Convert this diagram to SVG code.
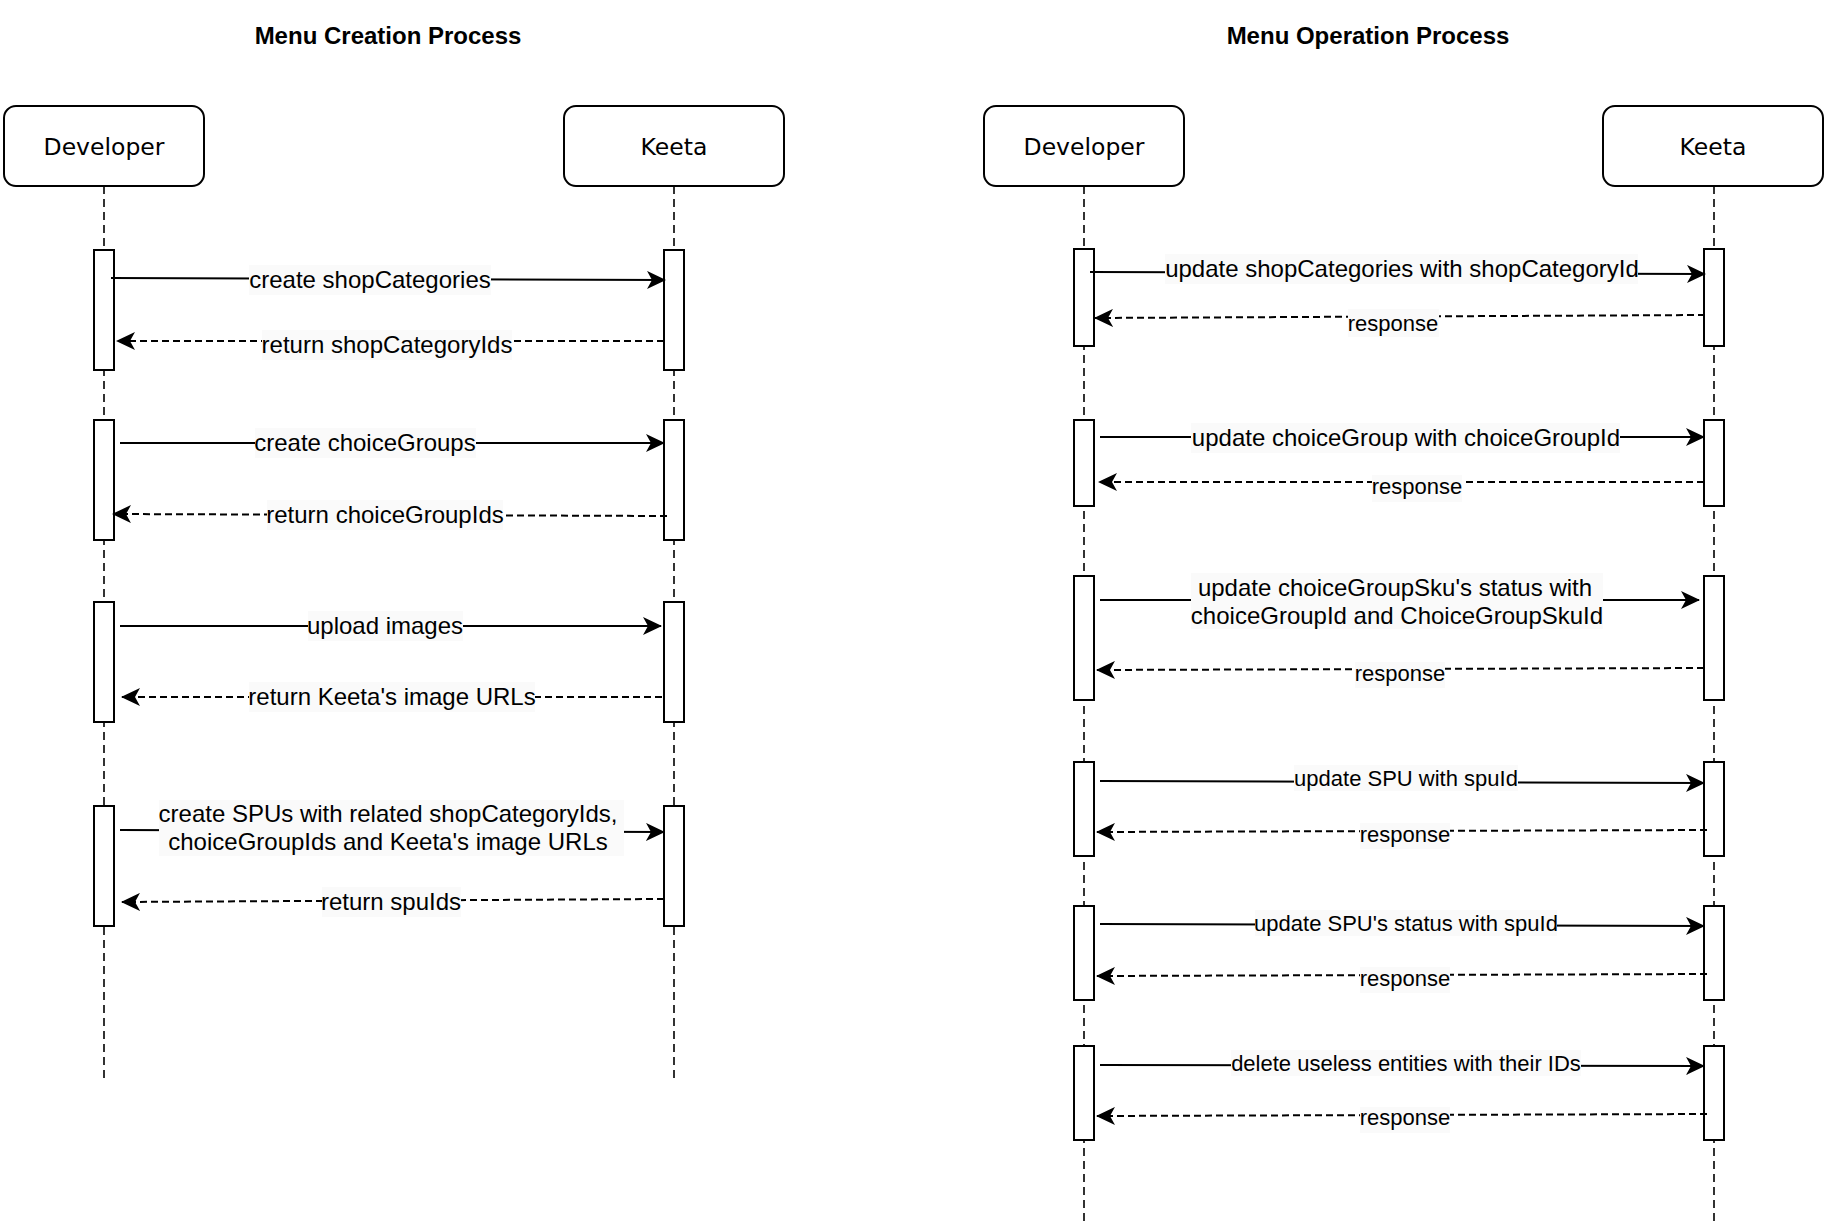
<svg xmlns="http://www.w3.org/2000/svg" width="1830" height="1230" viewBox="0 0 1830 1230">
<defs>
<marker id="ah" markerUnits="userSpaceOnUse" markerWidth="20" markerHeight="18" viewBox="0 0 20 18" refX="18" refY="9" orient="auto">
<path d="M0,0 L19,9 L0,18 L5,9 Z" fill="#000"/>
</marker>
<style>
.title{font-family:"Liberation Sans",Arial,sans-serif;font-weight:bold;font-size:24px;text-anchor:middle;fill:#000}
.actor rect{fill:#fff;stroke:#000;stroke-width:2}
.actor text{font-family:"DejaVu Sans",Verdana,sans-serif;font-size:23.5px;text-anchor:middle;fill:#000}
.life{stroke:#000;stroke-width:1.6;stroke-dasharray:8 5;fill:none}
.bar{fill:#fff;stroke:#000;stroke-width:2}
.msg{stroke:#000;stroke-width:2;fill:none;marker-end:url(#ah)}
.ret{stroke:#000;stroke-width:2;fill:none;stroke-dasharray:7 4;marker-end:url(#ah)}
.lbg{fill:#fafafa}
.lb{font-family:"Liberation Sans",Arial,sans-serif;font-size:24px;text-anchor:middle;fill:#000}
.ls{font-family:"Liberation Sans",Arial,sans-serif;font-size:22px;text-anchor:middle;fill:#000}
</style>
</defs>
<rect width="1830" height="1230" fill="#fff"/>
<text class="title" x="388" y="44">Menu Creation Process</text>
<text class="title" x="1368" y="44">Menu Operation Process</text>

<g id="lifelines">
<line class="life" x1="104" y1="186" x2="104" y2="1079"/>
<line class="life" x1="674" y1="186" x2="674" y2="1079"/>
<line class="life" x1="1084" y1="186" x2="1084" y2="1223"/>
<line class="life" x1="1714" y1="186" x2="1714" y2="1223"/>
</g>

<g id="left-developer" class="actor"><rect x="4" y="106" width="200" height="80" rx="12"/><text x="104" y="155">Developer</text></g>
<g id="left-keeta" class="actor"><rect x="564" y="106" width="220" height="80" rx="12"/><text x="674" y="155">Keeta</text></g>
<g id="right-developer" class="actor"><rect x="984" y="106" width="200" height="80" rx="12"/><text x="1084" y="155">Developer</text></g>
<g id="right-keeta" class="actor"><rect x="1603" y="106" width="220" height="80" rx="12"/><text x="1713" y="155">Keeta</text></g>

<g id="activations">
<rect class="bar" x="94" y="250" width="20" height="120"/>
<rect class="bar" x="664" y="250" width="20" height="120"/>
<rect class="bar" x="94" y="420" width="20" height="120"/>
<rect class="bar" x="664" y="420" width="20" height="120"/>
<rect class="bar" x="94" y="602" width="20" height="120"/>
<rect class="bar" x="664" y="602" width="20" height="120"/>
<rect class="bar" x="94" y="806" width="20" height="120"/>
<rect class="bar" x="664" y="806" width="20" height="120"/>
<rect class="bar" x="1074" y="249" width="20" height="97"/>
<rect class="bar" x="1704" y="249" width="20" height="97"/>
<rect class="bar" x="1074" y="420" width="20" height="86"/>
<rect class="bar" x="1704" y="420" width="20" height="86"/>
<rect class="bar" x="1074" y="576" width="20" height="124"/>
<rect class="bar" x="1704" y="576" width="20" height="124"/>
<rect class="bar" x="1074" y="762" width="20" height="94"/>
<rect class="bar" x="1704" y="762" width="20" height="94"/>
<rect class="bar" x="1074" y="906" width="20" height="94"/>
<rect class="bar" x="1704" y="906" width="20" height="94"/>
<rect class="bar" x="1074" y="1046" width="20" height="94"/>
<rect class="bar" x="1704" y="1046" width="20" height="94"/>
</g>

<g id="connectors">
<path class="msg" d="M111,278 L665,280"/>
<rect class="lbg" x="249" y="265" width="242" height="30"/>
<text class="lb" x="370" y="288">create shopCategories</text>

<path class="ret" d="M664,341 L117,341"/>
<rect class="lbg" x="262" y="330" width="250" height="30"/>
<text class="lb" x="387" y="353">return shopCategoryIds</text>

<path class="msg" d="M120,443 L664,443"/>
<rect class="lbg" x="255" y="428" width="221" height="30"/>
<text class="lb" x="365" y="451">create choiceGroups</text>

<path class="ret" d="M667,516 L113,514"/>
<rect class="lbg" x="267" y="500" width="236" height="30"/>
<text class="lb" x="385" y="523">return choiceGroupIds</text>

<path class="msg" d="M120,626 L661,626"/>
<rect class="lbg" x="308" y="611" width="155" height="30"/>
<text class="lb" x="385" y="634">upload images</text>

<path class="ret" d="M662,697 L122,697"/>
<rect class="lbg" x="249" y="682" width="286" height="30"/>
<text class="lb" x="392" y="705">return Keeta's image URLs</text>

<path class="msg" d="M120,830 L664,832"/>
<rect class="lbg" x="159" y="800" width="465" height="56"/>
<text class="lb" x="388" y="822">create SPUs with related shopCategoryIds,</text>
<text class="lb" x="388" y="850">choiceGroupIds and Keeta's image URLs</text>

<path class="ret" d="M664,899 L122,902"/>
<rect class="lbg" x="322" y="887" width="139" height="30"/>
<text class="lb" x="391" y="910">return spuIds</text>

<path class="msg" d="M1090,272 L1705,274"/>
<rect class="lbg" x="1165" y="254" width="473" height="30"/>
<text class="lb" x="1402" y="277">update shopCategories with shopCategoryId</text>

<path class="ret" d="M1705,315 L1095,318"/>
<rect class="lbg" x="1348" y="309" width="91" height="28"/>
<text class="ls" x="1393" y="331">response</text>

<path class="msg" d="M1100,437 L1704,437"/>
<rect class="lbg" x="1191" y="423" width="429" height="30"/>
<text class="lb" x="1406" y="446">update choiceGroup with choiceGroupId</text>

<path class="ret" d="M1704,482 L1099,482"/>
<rect class="lbg" x="1372" y="475" width="90" height="27"/>
<text class="ls" x="1417" y="494">response</text>

<path class="msg" d="M1100,600 L1699,600"/>
<rect class="lbg" x="1191" y="573" width="412" height="56"/>
<text class="lb" x="1395" y="596">update choiceGroupSku's status with</text>
<text class="lb" x="1397" y="624">choiceGroupId and ChoiceGroupSkuId</text>

<path class="ret" d="M1704,668 L1097,670"/>
<rect class="lbg" x="1355" y="662" width="90" height="26"/>
<text class="ls" x="1400" y="681">response</text>

<path class="msg" d="M1100,781 L1704,783"/>
<rect class="lbg" x="1294" y="765" width="224" height="26"/>
<text class="ls" x="1406" y="786">update SPU with spuId</text>

<path class="ret" d="M1707,830 L1097,832"/>
<rect class="lbg" x="1360" y="823" width="90" height="26"/>
<text class="ls" x="1405" y="842">response</text>

<path class="msg" d="M1100,924 L1704,926"/>
<rect class="lbg" x="1255" y="910" width="302" height="26"/>
<text class="ls" x="1406" y="931">update SPU's status with spuId</text>

<path class="ret" d="M1707,974 L1097,976"/>
<rect class="lbg" x="1360" y="967" width="90" height="26"/>
<text class="ls" x="1405" y="986">response</text>

<path class="msg" d="M1100,1065 L1704,1066"/>
<rect class="lbg" x="1231" y="1050" width="350" height="26"/>
<text class="ls" x="1406" y="1071">delete useless entities with their IDs</text>

<path class="ret" d="M1707,1114 L1097,1116"/>
<rect class="lbg" x="1360" y="1107" width="90" height="26"/>
<text class="ls" x="1405" y="1125">response</text>
</g>
</svg>
